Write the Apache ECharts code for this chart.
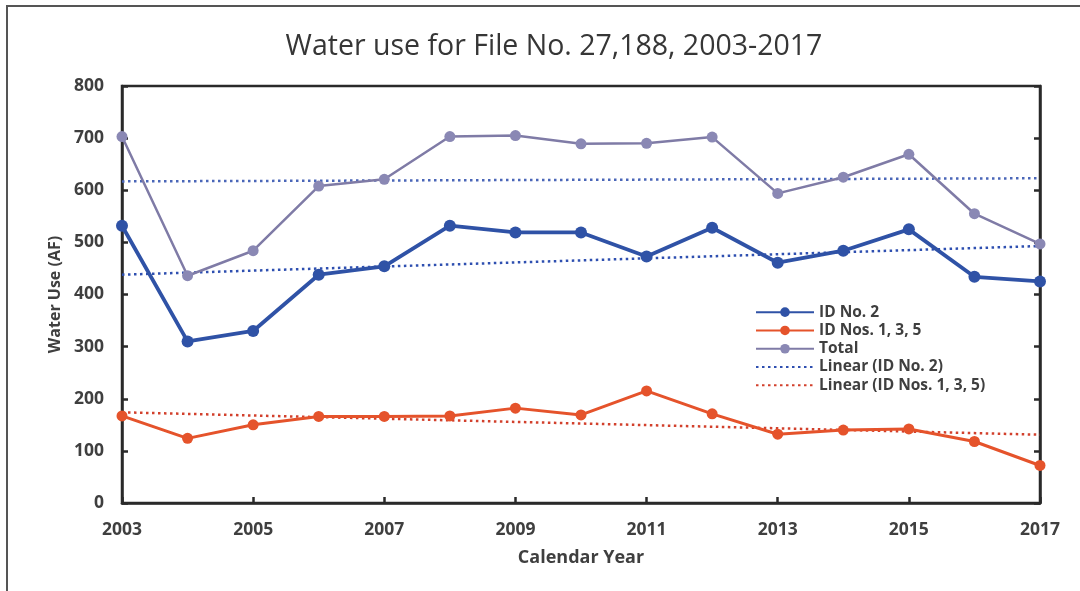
<!DOCTYPE html>
<html>
<head>
<meta charset="utf-8">
<script src="https://cdn.jsdelivr.net/npm/echarts@6/dist/echarts.min.js"></script>
<style>
html,body{margin:0;padding:0;background:#fff;}
#chart{width:1080px;height:591px;}
</style>
</head>
<body>
<div id="chart"></div>
<script>
const years = ['2003','2004','2005','2006','2007','2008','2009','2010','2011','2012','2013','2014','2015','2016','2017'];
const idNo2 = [532, 310, 330, 438, 454, 532, 519, 519, 473, 528, 461, 484, 525, 434, 425];
const idNos135 = [167, 124, 150, 166, 166, 167, 182, 169, 215, 171, 132, 140, 142, 118, 72];
const total = [703, 436, 484, 608, 621, 703, 705, 689, 690, 702, 594, 625, 669, 555, 497];
// Trendline endpoints (2003, 2017)
const trendIdNo2 = [438, 493];
const trendIdNos135 = [174, 131];
const trendTotal = [617, 623];
const yTicks = [0, 100, 200, 300, 400, 500, 600, 700, 800];

function endpoints(pair){
  return [[years[0], pair[0]], [years[years.length-1], pair[1]]];
}

const chart = echarts.init(document.getElementById('chart'));
const font = '"Open Sans", "Liberation Sans", sans-serif';
const txt = '#3f3f3f';
const axisCol = '#2a2a2a';

chart.setOption({
  animation: false,
  backgroundColor: '#ffffff',
  title: {
    text: 'Water use for File No. 27,188, 2003-2017',
    left: 549, top: 27, textAlign: 'center',
    textStyle: {fontFamily: font, fontSize: 28.5, fontWeight: 'normal', color: '#363636'}
  },
  graphic: [{
    type: 'rect', shape: {x: 7, y: 6, width: 1090, height: 600},
    style: {fill: 'none', stroke: '#555', lineWidth: 2}, silent: true, z: 100
  }],
  grid: {left: 122, top: 86, right: 40, bottom: 88, show: true, borderColor: axisCol, borderWidth: 2.5, backgroundColor: 'transparent'},
  legend: {
    orient: 'vertical', left: 750, top: 298,
    data: ['ID No. 2', 'ID Nos. 1, 3, 5', 'Total',
      {name: 'Linear (ID No. 2)', itemStyle: {opacity: 0}},
      {name: 'Linear (ID Nos. 1, 3, 5)', itemStyle: {opacity: 0}}],
    itemWidth: 58, itemHeight: 12, itemGap: 0,
    textStyle: {fontFamily: font, fontSize: 15.5, fontWeight: 'bold', color: txt, padding: [0,0,0,0], lineHeight: 18.3}
  },
  xAxis: {
    type: 'category', data: years, boundaryGap: false,
    name: 'Calendar Year', nameLocation: 'middle', nameGap: 46,
    nameTextStyle: {fontFamily: font, fontSize: 18, fontWeight: 'bold', color: txt},
    axisLine: {lineStyle: {color: axisCol, width: 2.5}},
    axisTick: {inside: true, interval: 1, length: 6, lineStyle: {color: axisCol, width: 2.5}},
    axisLabel: {interval: 1, margin: 18, fontFamily: font, fontSize: 17.5, fontWeight: 'bold', color: txt},
    splitLine: {show: false}
  },
  yAxis: [{
    type: 'value', min: 0, max: 800, interval: 100,
    name: 'Water Use (AF)', nameLocation: 'middle', nameGap: 58,
    nameTextStyle: {fontFamily: font, fontSize: 16, fontWeight: 'bold', color: txt},
    axisLine: {show: true, lineStyle: {color: axisCol, width: 2.5}},
    axisTick: {show: true, inside: true, length: 6, lineStyle: {color: axisCol, width: 2.5}},
    axisLabel: {margin: 18, fontFamily: font, fontSize: 17.5, fontWeight: 'bold', color: txt,
      formatter: v => yTicks.includes(v) ? String(v) : ''},
    splitLine: {show: false}
  }, {
    type: 'value', min: 0, max: 800, interval: 100, position: 'right',
    axisLine: {show: true, lineStyle: {color: axisCol, width: 2.5}},
    axisTick: {show: true, inside: true, length: 6, lineStyle: {color: axisCol, width: 2.5}},
    axisLabel: {show: false}, splitLine: {show: false}
  }],
  series: [
    {name: 'Linear (Total)', type: 'line', data: endpoints(trendTotal), symbol: 'none',
     lineStyle: {color: '#4a66b8', width: 2.5, type: [2.5, 3.5]}, itemStyle: {color: '#4a66b8'}, z: 1},
    {name: 'Linear (ID No. 2)', type: 'line', data: endpoints(trendIdNo2), symbol: 'none',
     lineStyle: {color: '#2e4fb0', width: 2.5, type: [2.5, 3.5]}, itemStyle: {color: '#2e4fb0'}, z: 1},
    {name: 'Linear (ID Nos. 1, 3, 5)', type: 'line', data: endpoints(trendIdNos135), symbol: 'none',
     lineStyle: {color: '#d2402c', width: 2.5, type: [2.5, 3.5]}, itemStyle: {color: '#d2402c'}, z: 1},
    {name: 'ID No. 2', type: 'line', data: idNo2, symbol: 'circle', symbolSize: 12,
     lineStyle: {color: '#2f52a6', width: 3.8}, itemStyle: {color: '#2f52a6'}, z: 3},
    {name: 'ID Nos. 1, 3, 5', type: 'line', data: idNos135, symbol: 'circle', symbolSize: 11,
     lineStyle: {color: '#e5532b', width: 3}, itemStyle: {color: '#e5532b'}, z: 3},
    {name: 'Total', type: 'line', data: total, symbol: 'circle', symbolSize: 11,
     lineStyle: {color: '#7f7ba6', width: 2.5}, itemStyle: {color: '#8a88b4'}, z: 2}
  ]
});
</script>
</body>
</html>
